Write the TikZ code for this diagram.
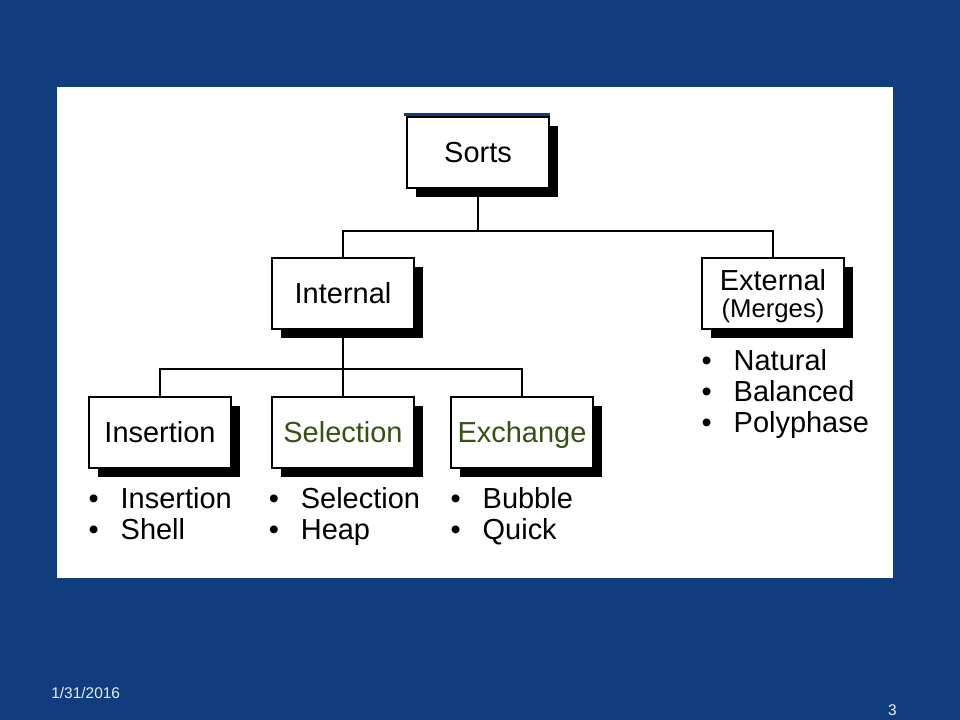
\documentclass[tikz,border=0pt]{standalone}
\usepackage{fontspec}
\setmainfont{Liberation Sans}
\usetikzlibrary{shadows}

\definecolor{slideblue}{RGB}{17,61,126}
\definecolor{leafgreen}{RGB}{55,80,20}

\newcommand{\boxfont}{\fontsize{20.6pt}{20.6pt}\selectfont}
\newcommand{\itemfont}{\fontsize{20.6pt}{22.2pt}\selectfont}
\newcommand{\bul}{\makebox[0.8cm][l]{\textbullet}}

\begin{document}
\begin{tikzpicture}[x=0.025cm, y=-0.025cm,
        sortbox/.style={draw=black, line width=0.8pt, fill=white,
            minimum width=3.55cm, minimum height=1.775cm, inner sep=0pt,
            align=center, font=\boxfont, text height=18pt, text depth=3.25pt,
            drop shadow={shadow xshift=0.225cm, shadow yshift=-0.225cm,
                fill=black, opacity=1}},
        items/.style={anchor=base west, align=left, inner sep=0pt, font=\itemfont},
        link/.style={line width=0.9pt}]

        % Slide background and white panel
        \fill[slideblue] (0,0) rectangle (960,720);
        \fill[white] (57,87) rectangle (893,578);

        % Bus levels
        \coordinate (topbus) at (0,231);
        \coordinate (lowbus) at (0,369);

        % Boxes
        \node[sortbox] (sorts) at (478,152.5) {Sorts};
        \node[sortbox] (int) at (343,293.5) {Internal};
        \node[sortbox, text height=38pt] (ext) at (773,293.5) {External\\[-1pt]{\fontsize{18.3pt}{18.3pt}\selectfont(Merges)}};
        \node[sortbox] (ins) at (160,432.5) {Insertion};
        \node[sortbox, text=leafgreen] (sel) at (343,432.5) {Selection};
        \node[sortbox, text=leafgreen] (exc) at (522,432.5) {Exchange};

        % Blue rule over Sorts
        \draw[slideblue, line width=2pt] ([xshift=-2pt, yshift=1.5pt]sorts.north west) -- ([yshift=1.5pt]sorts.north east);

        % Connectors
        \draw[link] (sorts.south) -- (sorts.south |- topbus);
        \draw[link] (int.north) -- (int.north |- topbus) -- (ext.north |- topbus) -- (ext.north);
        \draw[link] (int.south) -- (sel.north);
        \draw[link] (ins.north) -- (ins.north |- lowbus) -- (exc.north |- lowbus) -- (exc.north);

        % Bullet lists (base = last line)
        \node[items] (insl) at ([yshift=-1.78cm]ins.south west) {\bul Insertion\\\bul Shell};
        \node[items] (sell) at ([xshift=-2pt, yshift=-1.78cm]sel.south west) {\bul Selection\\\bul Heap};
        \node[items] (excl) at ([yshift=-1.78cm]exc.south west) {\bul Bubble\\\bul Quick};
        \node[items] (extl) at ([yshift=-2.585cm]ext.south west) {\bul Natural\\\bul Balanced\\\bul Polyphase};

        % Footer
        \node[anchor=base west, inner sep=0pt, text=white!90!slideblue, font=\fontsize{11pt}{11pt}\selectfont] (date) at (51,698) {1/31/2016};
        \node[anchor=base east, inner sep=0pt, text=white!90!slideblue, font=\fontsize{11pt}{11pt}\selectfont] (page) at (897,715) {3};
    \end{tikzpicture}
\end{document}
